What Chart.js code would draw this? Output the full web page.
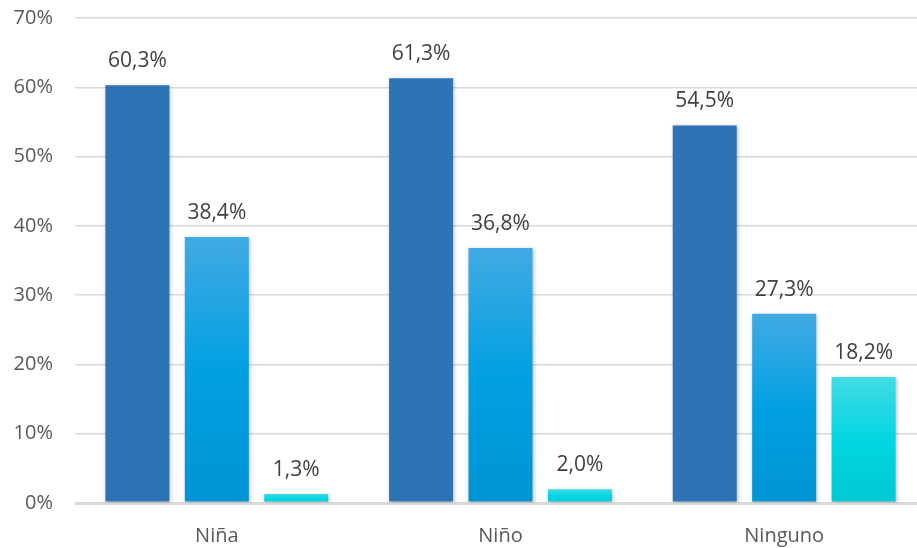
<!DOCTYPE html>
<html>
<head>
<meta charset="utf-8">
<script src="https://cdn.jsdelivr.net/npm/chart.js@4.4.1/dist/chart.umd.min.js"></script>
<style>
  html, body { margin: 0; padding: 0; background: #fff; overflow: hidden; }
  #wrap { width: 926px; height: 548px; position: relative; }
</style>
</head>
<body>
<div id="wrap"><canvas id="c"></canvas></div>
<script>
const categories = ['Niña', 'Niño', 'Ninguno'];
const serieA = [60.3, 61.3, 54.5];
const serieB = [38.4, 36.8, 27.3];
const serieC = [1.3, 2.0, 18.2];
const yTicks = [0, 10, 20, 30, 40, 50, 60, 70];

function gradientFill(top, mid, bottom) {
  return function (ctx) {
    const chart = ctx.chart;
    const y = chart.scales && chart.scales.y;
    if (!y || ctx.parsed === undefined || ctx.parsed === null) return mid;
    const y0 = y.getPixelForValue(ctx.parsed.y);
    const y1 = y.getPixelForValue(0);
    if (!isFinite(y0) || !isFinite(y1) || y0 === y1) return mid;
    const g = chart.ctx.createLinearGradient(0, y0, 0, y1);
    g.addColorStop(0, top);
    g.addColorStop(0.5, mid);
    g.addColorStop(1, bottom);
    return g;
  };
}

const shadowPlugin = {
  id: 'barShadow',
  beforeDatasetsDraw(chart) {
    const c = chart.ctx;
    c.save();
    c.shadowColor = 'rgba(0,0,0,0.25)';
    c.shadowBlur = 4;
    c.shadowOffsetX = 1;
    c.shadowOffsetY = 1;
  },
  afterDatasetsDraw(chart) {
    chart.ctx.restore();
  }
};

const labelPlugin = {
  id: 'valueLabels',
  afterDatasetsDraw(chart) {
    const c = chart.ctx;
    c.save();
    c.font = '21px "Open Sans", sans-serif';
    c.fillStyle = '#404040';
    c.textAlign = 'center';
    c.textBaseline = 'alphabetic';
    chart.data.datasets.forEach((ds, i) => {
      const meta = chart.getDatasetMeta(i);
      meta.data.forEach((bar, j) => {
        const v = ds.data[j];
        const txt = v.toFixed(1).replace('.', ',') + '%';
        c.fillText(txt, bar.x, bar.y - 18);
      });
    });
    c.restore();
  }
};

new Chart(document.getElementById('c'), {
  type: 'bar',
  data: {
    labels: categories,
    datasets: [
      { data: serieA, backgroundColor: '#2E74B5' },
      { data: serieB, backgroundColor: gradientFill('#42AAE3', '#01A0E2', '#0094D4') },
      { data: serieC, backgroundColor: gradientFill('#42DBE4', '#02D6E2', '#00C8D2') }
    ]
  },
  options: {
    responsive: true,
    maintainAspectRatio: false,
    animation: false,
    devicePixelRatio: 1,
    categoryPercentage: 0.84,
    barPercentage: 0.806,
    layout: { padding: { top: 18, left: 0, right: 0, bottom: 0 } },
    plugins: { legend: { display: false }, tooltip: { enabled: false } },
    scales: {
      x: {
        grid: { display: false, drawTicks: false },
        border: { display: false },
        ticks: { color: '#595959', font: { family: 'Open Sans', size: 20 }, padding: 21 },
        afterFit(scale) { scale.height = 45; scale.paddingLeft = 0; scale.paddingRight = 0; }
      },
      y: {
        min: 0, max: 70,
        afterBuildTicks(scale) { scale.ticks = yTicks.map(v => ({ value: v })); },
        grid: {
          drawTicks: false,
          color: '#D9D9D9',
          lineWidth: ctx => ctx.tick && ctx.tick.value === 0 ? 3 : 1.5
        },
        border: { display: false },
        ticks: {
          color: '#595959',
          font: { family: 'Open Sans', size: 20 },
          padding: 22,
          callback: v => v + '%'
        },
        afterFit(scale) { scale.width = 75; scale.paddingTop = 0; scale.paddingBottom = 0; }
      }
    }
  },
  plugins: [shadowPlugin, labelPlugin]
});
</script>
</body>
</html>
